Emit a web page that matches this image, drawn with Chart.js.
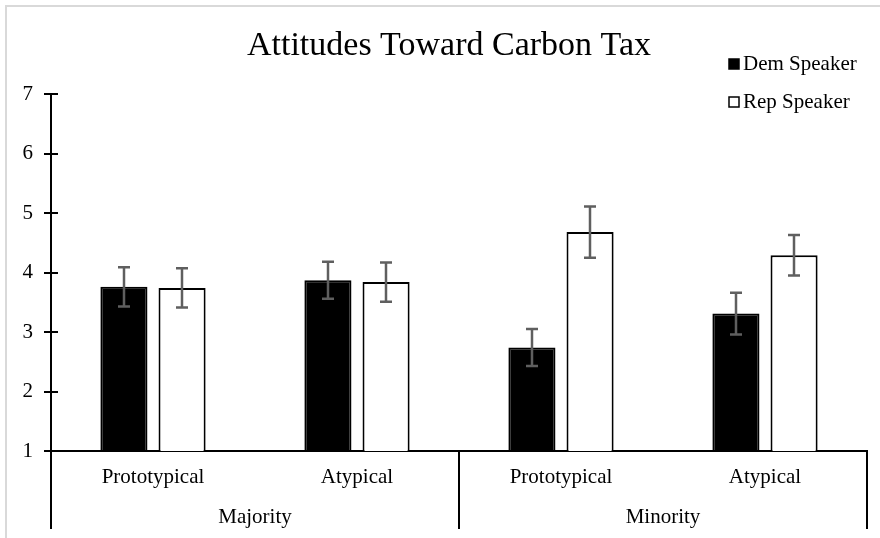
<!DOCTYPE html>
<html>
<head>
<meta charset="utf-8">
<script src="https://cdn.jsdelivr.net/npm/chart.js@4/dist/chart.umd.min.js"></script>
<style>
  html, body { margin: 0; padding: 0; background: #fff; }
  #wrap { width: 880px; height: 538px; position: relative; }
</style>
</head>
<body>
<div id="wrap"><canvas id="carbonTaxChart"></canvas></div>
<script>
const categories = ['Prototypical', 'Atypical', 'Prototypical', 'Atypical'];
const groups = ['Majority', 'Minority'];
const demValues = [3.76, 3.87, 2.74, 3.31];
const repValues = [3.74, 3.84, 4.68, 4.29];
const demErrors = [0.33, 0.31, 0.31, 0.35];
const repErrors = [0.33, 0.33, 0.43, 0.34];
const yTicks = [1, 2, 3, 4, 5, 6, 7];
const chartTitle = 'Attitudes Toward Carbon Tax';

const serif = 'Liberation Serif';
const ink = '#000';
const errGray = '#5f5f5f';

// gray frame (top + left edges only, as in the source image)
const framePlugin = {
    id: 'frame',
    beforeDraw(chart) {
        const ctx = chart.ctx;
        ctx.save();
        ctx.strokeStyle = '#d9d9d9';
        ctx.lineWidth = 2;
        ctx.beginPath();
        ctx.moveTo(6, chart.height);
        ctx.lineTo(6, 6);
        ctx.lineTo(chart.width, 6);
        ctx.stroke();
        ctx.restore();
    },
};

// title sits a little right of the plot centre in the original
const titlePlugin = {
    id: 'offsetTitle',
    afterDraw(chart) {
        const ctx = chart.ctx;
        ctx.save();
        ctx.fillStyle = ink;
        ctx.font = `34px "${serif}"`;
        ctx.textAlign = 'center';
        ctx.textBaseline = 'middle';
        ctx.fillText(chartTitle, 449, 46);
        ctx.restore();
    },
};

// tick marks cross the y axis: draw the inside half
const innerTicksPlugin = {
    id: 'innerTicks',
    afterDraw(chart) {
        const { ctx, scales: { y } } = chart;
        ctx.save();
        ctx.strokeStyle = ink;
        ctx.lineWidth = 2;
        yTicks.forEach(v => {
            const py = Math.round(y.getPixelForValue(v));
            ctx.beginPath();
            ctx.moveTo(y.right, py);
            ctx.lineTo(y.right + 7, py);
            ctx.stroke();
        });
        ctx.restore();
    },
};

const errorBarsPlugin = {
    id: 'errorBars',
    afterDatasetsDraw(chart) {
        const { ctx, scales: { y } } = chart;
        const errs = [demErrors, repErrors];
        ctx.save();
        ctx.strokeStyle = errGray;
        ctx.lineWidth = 2.5;
        chart.data.datasets.forEach((ds, di) => {
            chart.getDatasetMeta(di).data.forEach((bar, i) => {
                const v = ds.data[i];
                const top = y.getPixelForValue(v + errs[di][i]);
                const bot = y.getPixelForValue(v - errs[di][i]);
                const x = Math.round(bar.x);
                ctx.beginPath();
                ctx.moveTo(x, top);
                ctx.lineTo(x, bot);
                ctx.moveTo(x - 6, top);
                ctx.lineTo(x + 6, top);
                ctx.moveTo(x - 6, bot);
                ctx.lineTo(x + 6, bot);
                ctx.stroke();
            });
        });
        ctx.restore();
    },
};

// second label row + group separators under the x axis
const groupAxisPlugin = {
    id: 'groupAxis',
    afterDraw(chart) {
        const { ctx, scales: { x } } = chart;
        const mid = (x.getPixelForValue(1) + x.getPixelForValue(2)) / 2;
        const edges = [x.left, mid, x.right];
        ctx.save();
        ctx.strokeStyle = ink;
        ctx.lineWidth = 2;
        edges.forEach(px => {
            ctx.beginPath();
            ctx.moveTo(Math.round(px), x.top);
            ctx.lineTo(Math.round(px), x.top + 78);
            ctx.stroke();
        });
        ctx.fillStyle = ink;
        ctx.font = `21px "${serif}"`;
        ctx.textAlign = 'center';
        ctx.textBaseline = 'middle';
        groups.forEach((g, i) => {
            ctx.fillText(g, (edges[i] + edges[i + 1]) / 2, x.top + 66);
        });
        ctx.restore();
    },
};

const legendPlugin = {
    id: 'sideLegend',
    afterDraw(chart) {
        const ctx = chart.ctx;
        const items = [
            { label: 'Dem Speaker', fill: '#000', y: 64 },
            { label: 'Rep Speaker', fill: '#fff', y: 102 },
        ];
        ctx.save();
        ctx.font = `21px "${serif}"`;
        ctx.textBaseline = 'middle';
        ctx.textAlign = 'left';
        items.forEach(it => {
            ctx.fillStyle = it.fill;
            ctx.fillRect(729, it.y - 5, 10, 10);
            ctx.strokeStyle = '#000';
            ctx.lineWidth = 1.5;
            ctx.strokeRect(729, it.y - 5, 10, 10);
            ctx.fillStyle = ink;
            ctx.fillText(it.label, 743, it.y);
        });
        ctx.restore();
    },
};

new Chart(document.getElementById('carbonTaxChart'), {
    type: 'bar',
    data: {
        labels: categories,
        datasets: [
            {
                label: 'Dem Speaker',
                data: demValues,
                backgroundColor: '#000',
                borderColor: '#000',
                borderWidth: 2,
            },
            {
                label: 'Rep Speaker',
                data: repValues,
                backgroundColor: '#fff',
                borderColor: '#000',
                borderWidth: 2,
            },
        ],
    },
    options: {
        responsive: true,
        maintainAspectRatio: false,
        animation: false,
        devicePixelRatio: 1,
        categoryPercentage: 0.57,
        barPercentage: 0.81,
        layout: { padding: { left: 0, right: 13, top: 94, bottom: 0 } },
        plugins: {
            legend: { display: false },
            tooltip: { enabled: false },
            title: { display: false },
        },
        scales: {
            x: {
                grid: { display: false, drawTicks: false, tickLength: 0 },
                border: { display: true, color: ink, width: 2 },
                ticks: { color: ink, padding: 14, font: { family: serif, size: 21 } },
                afterFit: scale => { scale.height = 87; },
            },
            y: {
                min: 1,
                max: 7,
                afterBuildTicks: scale => { scale.ticks = yTicks.map(v => ({ value: v })); },
                grid: { drawOnChartArea: false, drawTicks: true, tickLength: 7, color: ink, lineWidth: 2 },
                border: { display: true, color: ink, width: 2 },
                ticks: { color: ink, padding: 11, font: { family: serif, size: 21 } },
                afterFit: scale => { scale.width = 51; },
            },
        },
    },
    plugins: [framePlugin, titlePlugin, innerTicksPlugin, errorBarsPlugin, groupAxisPlugin, legendPlugin],
});
</script>
</body>
</html>
